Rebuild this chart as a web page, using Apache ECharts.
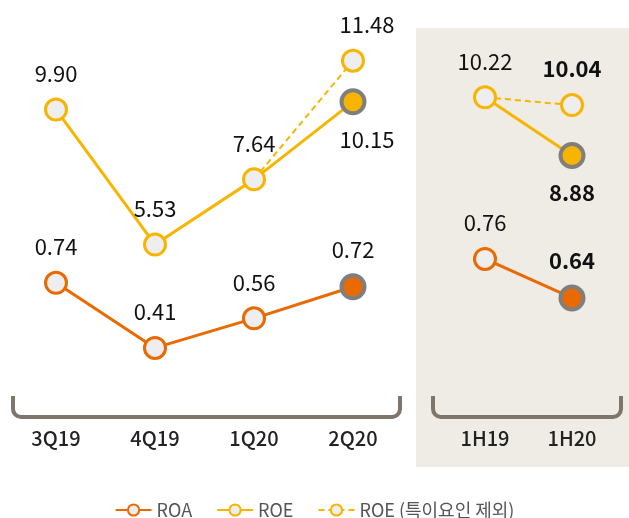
<!DOCTYPE html>
<html>
<head>
<meta charset="utf-8">
<script src="https://cdn.jsdelivr.net/npm/echarts@6/dist/echarts.min.js"></script>
<style>html,body{margin:0;padding:0;background:#fff;}#chart{width:629px;height:518px;}</style>
</head>
<body>
<div id="chart"></div>
<script>
const categoriesQ = ['3Q19', '4Q19', '1Q20', '2Q20'];
const roaQ = [0.74, 0.41, 0.56, 0.72];
const roeQ = [9.90, 5.53, 7.64, 10.15];
const roeExQ = [null, null, 7.64, 11.48];
const categoriesH = ['1H19', '1H20'];
const roaH = [0.76, 0.64];
const roeH = [10.22, 8.88];
const roeExH = [10.22, 10.04];
const legendNames = ['ROA', 'ROE', 'ROE (특이요인 제외)'];

const ORANGE = '#E86A00', YELLOW = '#F7B500', FILL = '#EEEEEE', GREY = '#7F7F7F';
const FONT = 'Noto Sans CJK KR';
const BR = '#7E756B';

function markerStyle(c) { return { color: FILL, borderColor: c, borderWidth: 3 }; }
function lbl(extra) {
  return Object.assign({ show: true, position: 'top', distance: 13, fontSize: 22, color: '#111', fontFamily: FONT,
    formatter: p => (typeof p.value === 'number' ? p.value.toFixed(2) : '') }, extra || {});
}
function special(v, c, labelExtra) {
  const o = { value: v, symbolSize: 23, itemStyle: { color: c, borderColor: GREY, borderWidth: 4 } };
  if (labelExtra) o.label = labelExtra;
  return o;
}
function bracket(x1, x2, yTop, yBot, r) {
  const st = { stroke: BR, lineWidth: 4, fill: null };
  return [
    { type: 'line', z: -5, shape: { x1: x1, y1: yTop, x2: x1, y2: yBot - r }, style: st },
    { type: 'arc', z: -5, shape: { cx: x1 + r, cy: yBot - r, r: r, startAngle: Math.PI / 2, endAngle: Math.PI, clockwise: true }, style: st },
    { type: 'line', z: -5, shape: { x1: x1 + r, y1: yBot, x2: x2 - r, y2: yBot }, style: st },
    { type: 'arc', z: -5, shape: { cx: x2 - r, cy: yBot - r, r: r, startAngle: 0, endAngle: Math.PI / 2, clockwise: true }, style: st },
    { type: 'line', z: -5, shape: { x1: x2, y1: yTop, x2: x2, y2: yBot - r }, style: st }
  ];
}

const chart = echarts.init(document.getElementById('chart'), null, { renderer: 'canvas' });
chart.setOption({
  animation: false,
  textStyle: { fontFamily: FONT },
  graphic: [
    { type: 'rect', z: -10, shape: { x: 416, y: 28, width: 213, height: 439 }, style: { fill: '#EFEBE5' } }
  ].concat(bracket(13, 400, 396, 417, 8), bracket(433, 621, 396, 417, 8)),
  legend: {
    data: legendNames, top: 496, left: 'center', itemWidth: 36, itemHeight: 14, itemGap: 24,
    textStyle: { fontSize: 18, color: '#555', fontFamily: FONT }
  },
  grid: [
    { left: 6.5, width: 396, top: 0, height: 400 },
    { left: 441.5, width: 174, top: 0, height: 400 }
  ],
  xAxis: [
    { gridIndex: 0, type: 'category', data: categoriesQ, axisLine: { show: false }, axisTick: { show: false },
      axisLabel: { fontSize: 20, fontWeight: 500, color: '#222', margin: 28, fontFamily: FONT } },
    { gridIndex: 1, type: 'category', data: categoriesH, axisLine: { show: false }, axisTick: { show: false },
      axisLabel: { fontSize: 20, fontWeight: 500, color: '#222', margin: 28, fontFamily: FONT } }
  ],
  yAxis: [
    { gridIndex: 0, type: 'value', min: 0.50, max: 13.445, show: false, splitLine: { show: false } },
    { gridIndex: 0, type: 'value', min: 0.146, max: 2.174, show: false, splitLine: { show: false } },
    { gridIndex: 1, type: 'value', min: 3.261, max: 12.456, show: false, splitLine: { show: false } },
    { gridIndex: 1, type: 'value', min: 0.326, max: 1.557, show: false, splitLine: { show: false } }
  ],
  series: [
    { name: legendNames[2], type: 'line', xAxisIndex: 0, yAxisIndex: 0, symbol: 'circle', symbolSize: 21,
      lineStyle: { color: YELLOW, width: 2, type: [6, 4] }, itemStyle: markerStyle(YELLOW),
      label: lbl({ offset: [14, 0] }),
      data: roeExQ.map((v, i) => i === 2 ? { value: v, symbol: 'none', label: { show: false } } : v) },
    { name: legendNames[1], type: 'line', xAxisIndex: 0, yAxisIndex: 0, symbol: 'circle', symbolSize: 21,
      lineStyle: { color: YELLOW, width: 3 }, itemStyle: markerStyle(YELLOW), label: lbl(),
      data: roeQ.map((v, i) => i === 3 ? special(v, YELLOW, { position: 'bottom', offset: [14, 0] }) : v) },
    { name: legendNames[0], type: 'line', xAxisIndex: 0, yAxisIndex: 1, symbol: 'circle', symbolSize: 21,
      lineStyle: { color: ORANGE, width: 3 }, itemStyle: markerStyle(ORANGE), label: lbl(),
      data: roaQ.map((v, i) => i === 3 ? special(v, ORANGE) : v) },
    { name: legendNames[2], type: 'line', xAxisIndex: 1, yAxisIndex: 2, symbol: 'circle', symbolSize: 21,
      lineStyle: { color: YELLOW, width: 2, type: [6, 4] }, itemStyle: markerStyle(YELLOW),
      label: lbl({ fontWeight: 'bold' }),
      data: roeExH.map((v, i) => i === 0 ? { value: v, symbol: 'none', label: { show: false } } : v) },
    { name: legendNames[1], type: 'line', xAxisIndex: 1, yAxisIndex: 2, symbol: 'circle', symbolSize: 21,
      lineStyle: { color: YELLOW, width: 3 }, itemStyle: markerStyle(YELLOW), label: lbl(),
      data: roeH.map((v, i) => i === 1 ? special(v, YELLOW, { position: 'bottom', fontWeight: 'bold' }) : v) },
    { name: legendNames[0], type: 'line', xAxisIndex: 1, yAxisIndex: 3, symbol: 'circle', symbolSize: 21,
      lineStyle: { color: ORANGE, width: 3 }, itemStyle: markerStyle(ORANGE), label: lbl(),
      data: roaH.map((v, i) => i === 1 ? special(v, ORANGE, { fontWeight: 'bold' }) : v) }
  ]
});
</script>
</body>
</html>
